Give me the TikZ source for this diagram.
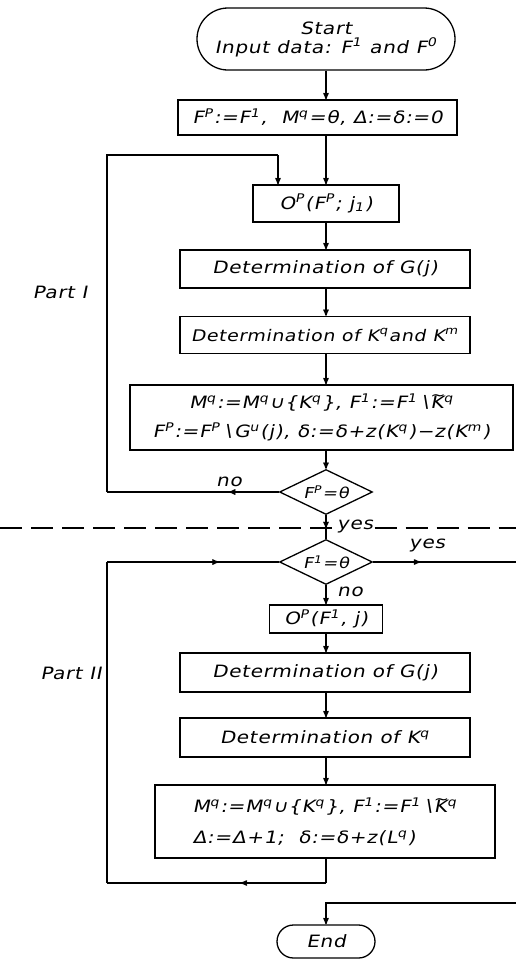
\documentclass[tikz,border=0pt]{standalone}
\usepackage{fontspec}
\newfontfamily\gost{DejaVu Sans}[FakeSlant=0.2,FakeStretch=1.18,LetterSpace=4]
\usepackage{tikz}
\usetikzlibrary{arrows,shapes.geometric,shapes.misc,decorations.markings}
\newcommand{\up}[1]{\textsuperscript{#1}\kern1pt\relax}
\newcommand{\dn}[1]{\textsubscript{#1}\kern1pt\relax}
\newcommand{\tK}{\ooalign{K\cr\hidewidth\raisebox{0.48em}{\fontsize{15}{15}\selectfont\textasciitilde}\hidewidth\cr}}

\begin{document}
\begin{tikzpicture}[x=1pt,y=-1pt,>=stealth',line width=1.3pt,
    font=\gost\fontsize{17}{19}\selectfont,
    block/.style={rectangle,draw,inner sep=2pt,align=center},
    term/.style={rounded rectangle,draw,inner sep=2pt,align=center},
    test/.style={diamond,draw,inner sep=0pt,aspect=2.1,minimum width=93,minimum height=45,font=\gost\fontsize{15}{16}\selectfont},
    midarrow/.style={postaction={decorate},decoration={markings,mark=at position #1 with {\arrow{stealth'}}}},
    midarrow/.default=0.5]

              \useasboundingbox (0,0) rectangle (516,962);

              % Define blocks by coordinates
              \node[term,minimum width=262,minimum height=62] (start) at (326,39) {Start\\Input data: F\up{1} and F\up{0}};
              \node[block,minimum width=279,minimum height=35] (init) at (317.5,117.5) {F\up{P}:=F\up{1}, \ M\up{q}=θ, Δ:=δ:=0};
              \node[block,minimum width=146,minimum height=37] (op1) at (326,203.5) {O\up{P}(F\up{P}; j\dn{1})};
              \node[block,minimum width=290,minimum height=38] (detg1) at (325,269) {Determination of G(j)};
              \node[block,minimum width=290,minimum height=37,font=\gost\fontsize{16}{19}\selectfont] (detk1) at (325,335) {Determination of K\up{q}and K\up{m}};
              \node[block,minimum width=383,minimum height=65] (upd1) at (321.5,417.5) {M\up{q}:=M\up{q}∪\{K\up{q}\}, F\up{1}:=F\up{1}∖\tK\up{q}\\[10pt]F\up{P}:=F\up{P}∖G\up{u}(j), δ:=δ+z(K\up{q})−z(K\up{m})};
              \node[test] (dec1) at (326,492) {F\up{P}=θ};
              \node[test] (dec2) at (326,562) {F\up{1}=θ};
              \node[block,minimum width=113,minimum height=28] (op2) at (326,619) {O\up{P}(F\up{1}, j)};
              \node[block,minimum width=290,minimum height=39] (detg2) at (325,672.5) {Determination of G(j)};
              \node[block,minimum width=290,minimum height=39] (detk2) at (325,737.5) {Determination of K\up{q}};
              \node[block,minimum width=340,minimum height=73,align=left] (upd2) at (325,821.5) {M\up{q}:=M\up{q}∪\{K\up{q}\}, F\up{1}:=F\up{1}∖\tK\up{q}\\[12pt]Δ:=Δ+1; \ δ:=δ+z(L\up{q})};
              \node[term,minimum width=102,minimum height=33] (stop) at (326,941.5) {End};

              % Part labels
              \node (part1) at (60,292) {Part I};
              \node (part2) at (71,673) {Part II};

              % Corners of the loops and free ends
              \coordinate (l1a) at (107,492);
              \coordinate (l1b) at (107,155);
              \coordinate (l1c) at (278,155);
              \coordinate (l2a) at (326,883);
              \coordinate (l2b) at (107,883);
              \coordinate (l2c) at (107,562);
              \coordinate (yr) at (516,562);
              \coordinate (er) at (516,903);
              \coordinate (dl) at (0,528);
              \coordinate (dr) at (516,528);

              % Draw straight arrows
              \draw[->] (start.south) -- (start.south |- init.north);
              \draw[->] (op1.north |- init.south) -- (op1.north);
              \draw[->] (op1.south) -- (detg1.north -| op1.south);
              \draw[->] (op1.south |- detg1.south) -- (op1.south |- detk1.north);
              \draw[->] (op1.south |- detk1.south) -- (op1.south |- upd1.north);
              \draw[->] (op1.south |- upd1.south) -- (dec1.north);
              \draw[midarrow=0.55] (dec1.south) -- (dec2.north);
              \draw[->] (dec2.south) -- (op2.north);
              \draw[->] (op2.south) -- (op2.south |- detg2.north);
              \draw[->] (op2.south |- detg2.south) -- (op2.south |- detk2.north);
              \draw[->] (op2.south |- detk2.south) -- (op2.south |- upd2.north);

              % Loop of part I
              \draw[midarrow=0.29] (dec1.west) -- node[above=1pt,pos=0.29] (no1) {no} (l1a);
              \draw (l1a) -- (l1b) -- (l1c);
              \draw[->] (l1c) -- (l1c |- op1.north);

              % Loop of part II
              \draw (op2.south |- upd2.south) -- (l2a);
              \draw[midarrow=0.39] (l2a) -- (l2b);
              \draw (l2b) -- (l2c);
              \draw[midarrow=0.65] (l2c) -- (dec2.west);

              % Exits
              \draw[midarrow=0.33] (dec2.east) -- (yr);
              \node (yes2) at (427,545) {yes};
              \node (no2) at (350,592) {no};
              \draw[->] (er) -| (stop.north);

              % Border between the parts
              \node[inner sep=1pt] (yes1) at (355,526) {yes};
              \draw[line width=1.2pt,dash pattern=on 22pt off 9pt] (dl) -- (dl -| yes1.west);
              \draw[line width=1.2pt,dash pattern=on 22pt off 9pt] (yes1.east |- dr) -- (dr);
            \end{tikzpicture}
\end{document}
